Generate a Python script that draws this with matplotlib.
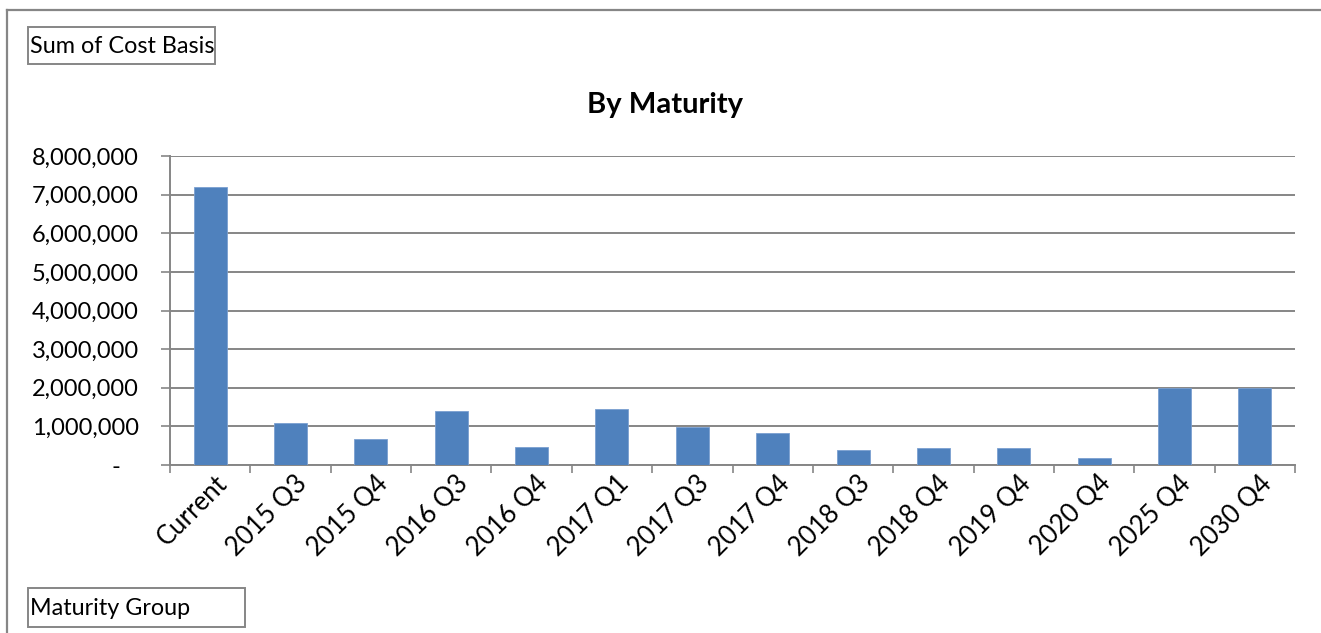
import matplotlib
matplotlib.use("Agg")
import matplotlib.pyplot as plt
from matplotlib.ticker import FuncFormatter, FixedLocator
from matplotlib.lines import Line2D
from matplotlib.patches import Rectangle
import matplotlib.transforms as mtransforms

categories = ["Current", "2015 Q3", "2015 Q4", "2016 Q3", "2016 Q4", "2017 Q1",
              "2017 Q3", "2017 Q4", "2018 Q3", "2018 Q4", "2019 Q4", "2020 Q4",
              "2025 Q4", "2030 Q4"]
values = [7200000, 1090000, 680000, 1400000, 460000, 1460000,
          990000, 830000, 390000, 440000, 440000, 170000,
          2000000, 2000000]
yticks = [0, 1000000, 2000000, 3000000, 4000000, 5000000, 6000000, 7000000, 8000000]

plt.rcParams['font.family'] = ['Lato', 'DejaVu Sans']
GRAY = "#868686"
BLUE = "#4F81BD"

W, H = 1321, 633
fig = plt.figure(figsize=(W / 100, H / 100), dpi=100)
ax = fig.add_axes([170 / W, 1 - 465 / H, (1295 - 170) / W, (465 - 156) / H])

x = list(range(len(categories)))
ax.bar(x, values, width=0.41, color=BLUE, edgecolor="#7A9FD0", linewidth=0.6, zorder=3)

ax.set_xlim(-0.5, len(categories) - 0.5)
ax.set_ylim(0, 8000000)
ax.set_yticks(yticks)
ax.yaxis.set_major_formatter(FuncFormatter(lambda v, p: "-   " if v == 0 else f"{int(v):,}"))
ax.grid(axis="y", color=GRAY, linewidth=1.4, zorder=0)
ax.tick_params(axis="y", length=6.5, width=1.2, color=GRAY, labelsize=17, pad=16)

ax.set_xticks(x)
ax.set_xticklabels(categories, rotation=45, ha="right", va="top", rotation_mode="anchor", fontsize=18.5)
ax.tick_params(axis="x", which="major", length=0, pad=4)
offset = mtransforms.ScaledTranslation(4 / 100, 0, fig.dpi_scale_trans)
for lbl in ax.get_xticklabels():
    lbl.set_transform(lbl.get_transform() + offset)
ax.xaxis.set_minor_locator(FixedLocator([i - 0.5 for i in range(len(categories) + 1)]))
ax.tick_params(axis="x", which="minor", length=6, width=1.2, color=GRAY)

for s in ["top", "right"]:
    ax.spines[s].set_visible(False)
for s in ["left", "bottom"]:
    ax.spines[s].set_color(GRAY)
    ax.spines[s].set_linewidth(1.4)

fig.text(665 / W, 1 - 105 / H, "By Maturity", ha="center", va="center",
         fontsize=21, fontweight="bold")

# outer chart border (partially visible)
fig.add_artist(Line2D([7 / W, 1.0], [1 - 10 / H, 1 - 10 / H], color=GRAY, linewidth=1.6,
                      transform=fig.transFigure))
fig.add_artist(Line2D([7 / W, 7 / W], [1 - 10 / H, 0.0], color=GRAY, linewidth=1.6,
                      transform=fig.transFigure))

# field buttons
def field_box(x0, y0, x1, y1, label):
    fig.add_artist(Rectangle((x0 / W, 1 - y1 / H), (x1 - x0) / W, (y1 - y0) / H,
                             transform=fig.transFigure, fill=False, edgecolor=GRAY, linewidth=1.4))
    fig.text((x0 + 2) / W, 1 - ((y0 + y1) / 2 + 1) / H, label, ha="left", va="center", fontsize=16.8)

field_box(28, 27, 215, 64, "Sum of Cost Basis")
field_box(28, 588, 245, 627, "Maturity Group")

fig.savefig("out.png", dpi=100)
